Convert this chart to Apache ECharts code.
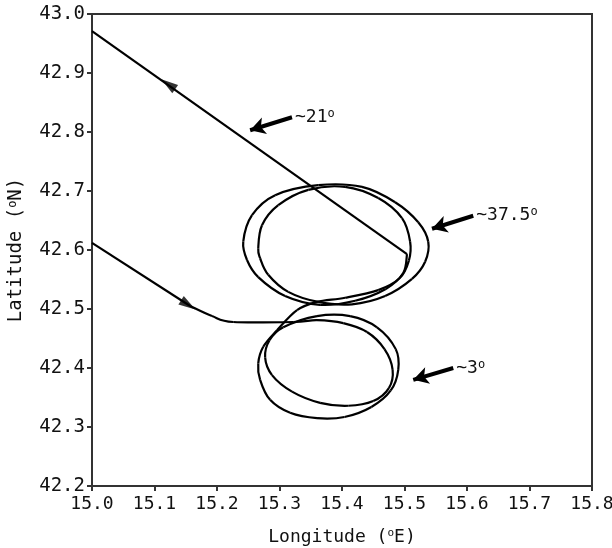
<!DOCTYPE html>
<html>
<head>
<meta charset="utf-8">
<script src="https://cdn.jsdelivr.net/npm/echarts@6/dist/echarts.min.js"></script>
<style>html,body{margin:0;padding:0;background:#fff;overflow:hidden;}#c{width:612px;height:548px;}</style>
</head>
<body>
<div id="c"></div>
<script>
// ---- data (longitude, latitude) ----
const xTickLabels = ['15.0','15.1','15.2','15.3','15.4','15.5','15.6','15.7','15.8'];
const yTickLabels = ['42.2','42.3','42.4','42.5','42.6','42.7','42.8','42.9','43.0'];
const approach = [[15.000,42.612],[15.157,42.505]];
const approachCurve = [[15.157,42.505],[15.192,42.488],[15.226,42.478],[15.322,42.478]];
const lowerInner = [[15.360,42.481],[15.402,42.476],[15.440,42.461],[15.468,42.432],[15.481,42.397],
  [15.475,42.366],[15.450,42.344],[15.410,42.336],[15.365,42.341],[15.320,42.360],[15.288,42.388],
  [15.277,42.418],[15.284,42.447],[15.306,42.469]];
const lowerOuter = [[15.360,42.488],[15.413,42.488],[15.456,42.469],[15.486,42.432],[15.490,42.397],
  [15.478,42.362],[15.447,42.334],[15.404,42.317],[15.360,42.315],[15.317,42.324],[15.285,42.346],
  [15.269,42.380],[15.266,42.408],[15.274,42.436],[15.296,42.464],[15.328,42.498],[15.360,42.512]];
const upperInner = [[15.405,42.519],[15.458,42.532],[15.492,42.552],[15.507,42.582],[15.509,42.614],
  [15.496,42.654],[15.458,42.688],[15.405,42.707],[15.346,42.702],[15.298,42.676],[15.272,42.642],
  [15.266,42.603],[15.269,42.586],[15.282,42.558],[15.314,42.529],[15.362,42.512]];
const upperOuter = [[15.416,42.508],[15.469,42.522],[15.512,42.551],[15.533,42.580],[15.538,42.614],
  [15.522,42.647],[15.485,42.681],[15.432,42.707],[15.362,42.710],[15.293,42.693],[15.256,42.659],
  [15.242,42.614],[15.248,42.583],[15.266,42.554],[15.309,42.522],[15.365,42.507]];
const finalArc = [[15.421,42.514],[15.470,42.534],[15.498,42.561],[15.504,42.593]];
const departure = [[15.504,42.593],[15.000,42.971]];
const directionArrows = [[15.122,42.881],[15.154,42.507]];
const directionAngles = [54.7,-122.7];
const annotationTexts = ['~21', '~37.5', '~3'];
const annotationFrom = [[15.320,42.825],[15.610,42.658],[15.578,42.400]];
const annotationTo = [[15.253,42.803],[15.544,42.636],[15.514,42.380]];

// ---- chart ----
const MONO = '"DejaVu Sans Mono", "Liberation Mono", monospace';
const loopPath = approachCurve.concat(lowerInner, lowerOuter, upperInner, upperOuter, finalArc);

const chart = echarts.init(document.getElementById('c'), null, {renderer: 'canvas', width: 612, height: 548});

const axisCommon = {
  type: 'value',
  interval: 0.1,
  axisLine: {show: true, onZero: false, lineStyle: {color: '#333', width: 2}},
  axisTick: {show: true, inside: false, length: 5, lineStyle: {color: '#333', width: 2}},
  splitLine: {show: false},
  nameLocation: 'middle'
};

const xNameRich = {
  t: {fontFamily: MONO, fontSize: 18, color: '#111'},
  s: {fontFamily: MONO, fontSize: 11, color: '#111', verticalAlign: 'top', padding: [0, 0, 7, 0]}
};
const yNameRich = {
  t: {fontFamily: MONO, fontSize: 19, color: '#111'},
  s: {fontFamily: MONO, fontSize: 12, color: '#111', verticalAlign: 'top', padding: [0, 0, 7, 0]}
};
const annoRich = {
  t: {fontFamily: MONO, fontSize: 18, color: '#111'},
  s: {fontFamily: MONO, fontSize: 12, color: '#111', verticalAlign: 'top', padding: [0, 0, 7, 0]}
};

const annotationLines = annotationFrom.map((f, i) => [
  {coord: f}, {coord: annotationTo[i]}
]);
const annotationLabels = annotationFrom.map((f, i) => ({
  coord: f,
  label: {formatter: '{t|' + annotationTexts[i] + '}{s|o}'}
}));

// smooth track drawn segment by segment (Catmull-Rom through the read points)
function renderTrackSegment(params, api) {
  const i = params.dataIndex;
  const n = loopPath.length;
  if (i >= n - 1) return null;
  const p = k => api.coord(loopPath[Math.max(0, Math.min(n - 1, k))]);
  const p0 = p(i - 1), p1 = p(i), p2 = p(i + 1), p3 = p(i + 2);
  return {
    type: 'bezierCurve',
    shape: {
      x1: p1[0], y1: p1[1], x2: p2[0], y2: p2[1],
      cpx1: p1[0] + (p2[0] - p0[0]) / 6, cpy1: p1[1] + (p2[1] - p0[1]) / 6,
      cpx2: p2[0] - (p3[0] - p1[0]) / 6, cpy2: p2[1] - (p3[1] - p1[1]) / 6
    },
    style: {stroke: '#000', lineWidth: 2.2, fill: null}
  };
}

chart.setOption({
  animation: false,
  backgroundColor: '#fff',
  grid: {left: 92, right: 20, top: 14, bottom: 62, show: true, borderColor: '#333', borderWidth: 2,
    backgroundColor: 'transparent', containLabel: false, outerBoundsMode: 'none'},
  xAxis: Object.assign({}, axisCommon, {
    min: 15.0, max: 15.8,
    name: '{t|Longitude (}{s|o}{t|E)}',
    nameGap: 42,
    nameTextStyle: {rich: xNameRich},
    axisLabel: {margin: 9, fontFamily: MONO, fontSize: 18, color: '#111', showMaxLabel: true, showMinLabel: true,
      formatter: v => xTickLabels[Math.round((v - 15.0) * 10)]}
  }),
  yAxis: Object.assign({}, axisCommon, {
    min: 42.2, max: 43.0,
    name: '{t|Latitude (}{s|o}{t|N)}',
    nameGap: 66,
    nameRotate: 90,
    nameTextStyle: {rich: yNameRich},
    axisLabel: {margin: 7, fontFamily: MONO, fontSize: 19, color: '#111', showMaxLabel: true, showMinLabel: true,
      formatter: v => yTickLabels[Math.round((v - 42.2) * 10)]}
  }),
  series: [
    {type: 'line', data: approach, showSymbol: false, smooth: false,
      lineStyle: {color: '#000', width: 2.2}},
    {type: 'custom', data: loopPath, renderItem: renderTrackSegment, silent: true,
      encode: {x: 0, y: 1}},
    {type: 'line', data: departure, showSymbol: false, smooth: false,
      lineStyle: {color: '#000', width: 2.2}},
    {type: 'scatter', symbol: 'triangle', symbolSize: [10, 17],
      itemStyle: {color: '#000'},
      data: directionArrows.map((p, i) => ({value: p, symbolRotate: directionAngles[i]}))},
    {type: 'line', data: [], silent: true,
      markLine: {
        silent: true, animation: false,
        symbol: ['none', 'arrow'], symbolSize: [13, 15],
        lineStyle: {color: '#000', width: 4, type: 'solid'},
        label: {show: false},
        data: annotationLines
      },
      markPoint: {
        silent: true, animation: false,
        symbol: 'circle', symbolSize: 0,
        label: {show: true, position: 'right', distance: 3, rich: annoRich},
        data: annotationLabels
      }
    }
  ]
});
</script>
</body>
</html>
